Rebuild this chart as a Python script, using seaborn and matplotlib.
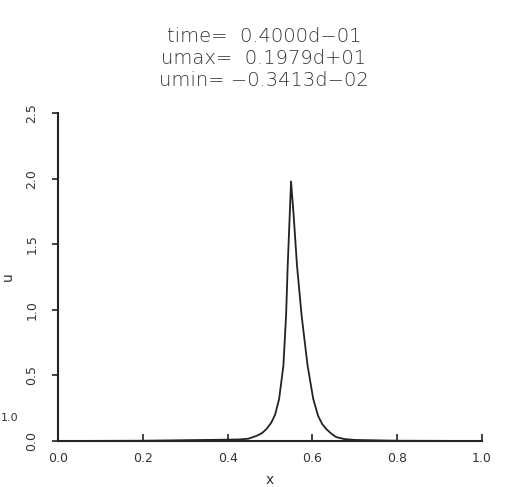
import matplotlib
matplotlib.use("Agg")
import matplotlib.pyplot as plt
import seaborn as sns
import pandas as pd

x_vals = [0.0, 0.2, 0.4, 0.43, 0.4496, 0.469, 0.482, 0.4926, 0.503, 0.512, 0.5215,
          0.5316, 0.5379, 0.5418, 0.5465, 0.5496, 0.5558, 0.5636, 0.5746, 0.5886,
          0.602, 0.6136, 0.623, 0.633, 0.645, 0.656, 0.675, 0.7, 0.8, 1.0]
u_vals = [0.0, 0.002, 0.01, 0.012, 0.018, 0.04, 0.062, 0.095, 0.14, 0.2, 0.32,
          0.575, 0.955, 1.34, 1.72, 1.979, 1.72, 1.34, 0.955, 0.575,
          0.32, 0.19, 0.13, 0.09, 0.055, 0.03, 0.015, 0.008, 0.002, 0.0]
x_ticks = [0.0, 0.2, 0.4, 0.6, 0.8, 1.0]
x_ticklabels = ["0.0", "0.2", "0.4", "0.6", "0.8", "1.0"]
y_ticks = [0.0, 0.5, 1.0, 1.5, 2.0, 2.5]
y_ticklabels = ["0.0", "0.5", "1.0", "1.5", "2.0", "2.5"]
title_lines = ["time=  0.4000d\u221201", "umax=  0.1979d+01", "umin= \u22120.3413d\u221202"]

sns.set_style("white")
plt.rcParams['font.family'] = ['DejaVu Sans']

df = pd.DataFrame({"x": x_vals, "u": u_vals})

fig = plt.figure(figsize=(5.14, 4.87), dpi=100)
ax = fig.add_axes([58/514, 1-441/487, (482-58)/514, (441-113)/487])
sns.lineplot(data=df, x="x", y="u", ax=ax, color="#222222", linewidth=1.3)

ax.set_xlim(0, 1.0)
ax.set_ylim(0, 2.5)
for s in ["top", "right"]:
    ax.spines[s].set_visible(False)
for s in ["left", "bottom"]:
    ax.spines[s].set_color("#222222")
    ax.spines[s].set_linewidth(1.5)

ax.set_xticks(x_ticks)
ax.set_xticklabels(x_ticklabels, fontsize=9, color="#333333")
ax.set_yticks(y_ticks)
ax.set_yticklabels(y_ticklabels, fontsize=9, color="#333333", rotation=90, va="center")
ax.tick_params(axis="x", bottom=True, direction="in", length=5, width=1.2, pad=8,
               colors="#222222", labelcolor="#333333")
ax.tick_params(axis="y", left=True, direction="out", length=4, width=1.2, pad=10,
               colors="#222222", labelcolor="#333333")

ax.set_xlabel("x", fontsize=10, color="#333333", labelpad=6)
ax.set_ylabel("u", fontsize=10, color="#333333", labelpad=8)

for i, line in enumerate(title_lines):
    fig.text(264/514, 1-(37+21.5*i)/487, line, ha="center", va="center",
             fontsize=14, color="#333333", fontweight="light")

fig.text(0.002, 1-418/487, "1.0", ha="left", va="center", fontsize=8, color="#333333")

fig.savefig("out.png", dpi=100, facecolor="white")
